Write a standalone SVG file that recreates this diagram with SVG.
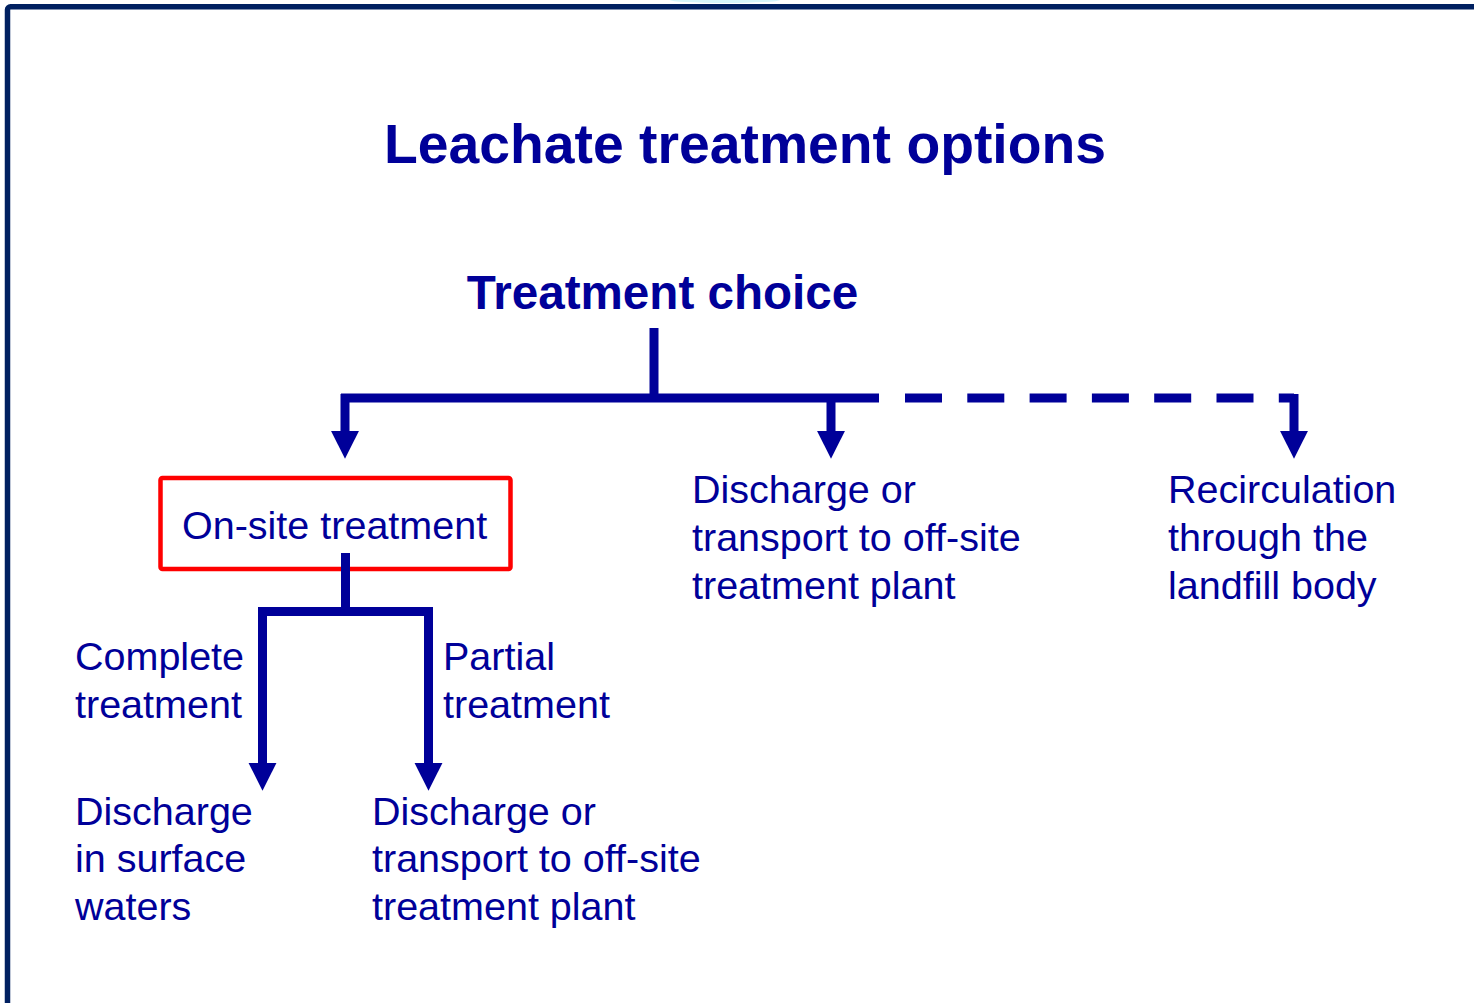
<svg xmlns="http://www.w3.org/2000/svg" width="1474" height="1003" viewBox="0 0 1474 1003">
<style>
.t{font-family:"Liberation Sans",Arial,sans-serif;fill:#000099;font-size:39.5px}
.b{font-family:"Liberation Sans",Arial,sans-serif;fill:#000099;font-weight:bold}
.ln{fill:none;stroke:#000099;stroke-width:9}
.ar{fill:none;stroke:#000099;stroke-width:9;marker-end:url(#ah)}
</style>
<defs>
<marker id="ah" markerUnits="userSpaceOnUse" markerWidth="30" markerHeight="30" viewBox="0 -14 28 28" refX="0" refY="0" orient="auto">
<path d="M0,-13 L26,0 L0,13 Z" fill="#000099"/>
</marker>
</defs>
<rect width="1474" height="1003" fill="#ffffff"/>
<ellipse cx="725" cy="0" rx="55" ry="3" fill="#d6f5f9"/>
<rect x="7.5" y="6.8" width="1500" height="1100" rx="3" fill="none" stroke="#002060" stroke-width="5.5"/>
<g id="title"><text class="b" x="745" y="163" font-size="55.3" text-anchor="middle">Leachate treatment options</text></g>
<g id="treatment-choice"><text class="b" x="662.5" y="309" font-size="47.6" text-anchor="middle">Treatment choice</text></g>
<g id="on-site">
<rect x="160.5" y="478" width="350" height="91" rx="2" fill="none" stroke="#ff0000" stroke-width="4.5"/>
<text class="t" x="182" y="539">On-site treatment</text>
</g>
<g id="offsite-1"><text class="t" x="692" y="503">Discharge or</text><text class="t" x="692" y="551">transport to off-site</text><text class="t" x="692" y="599">treatment plant</text></g>
<g id="recirculation"><text class="t" x="1168" y="503">Recirculation</text><text class="t" x="1168" y="551">through the</text><text class="t" x="1168" y="599">landfill body</text></g>
<g id="surface"><text class="t" x="75" y="825">Discharge</text><text class="t" x="75" y="872">in surface</text><text class="t" x="75" y="920">waters</text></g>
<g id="offsite-2"><text class="t" x="372" y="825">Discharge or</text><text class="t" x="372" y="872">transport to off-site</text><text class="t" x="372" y="920">treatment plant</text></g>
<g id="connectors">
<path class="ln" d="M654,328 V398"/>
<path class="ln" d="M341,398 H879"/>
<path class="ln" d="M905,398 H1294" stroke-dasharray="37 25.3"/>
<path class="ar" d="M345,394 V431"/>
<path class="ar" d="M831,398 V431"/>
<path class="ar" d="M1294,394 V431"/>
<path class="ln" d="M345.5,553 V611.5"/>
<path class="ln" d="M258,611.5 H433"/>
<path class="ar" d="M262.5,607 V763"/>
<path class="ar" d="M428.5,607 V763"/>
<text class="t" x="75" y="670">Complete</text><text class="t" x="75" y="718">treatment</text>
<text class="t" x="443" y="670">Partial</text><text class="t" x="443" y="718">treatment</text>
</g>
</svg>
